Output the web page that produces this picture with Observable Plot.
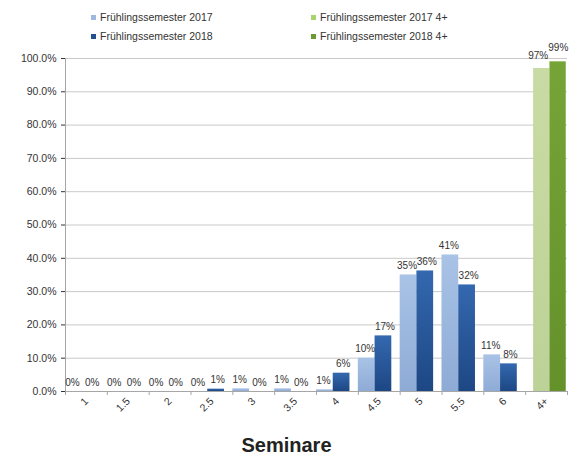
<!DOCTYPE html>
<html><head><meta charset="utf-8">
<script src="https://cdn.jsdelivr.net/npm/d3@7"></script>
<script src="https://cdn.jsdelivr.net/npm/@observablehq/plot@0.6"></script>
<style>
body{margin:0;background:#fff;font-family:Arial,"Liberation Sans",sans-serif;}
#wrap{position:relative;width:578px;height:455px;overflow:hidden;}
#wrap svg{position:absolute;left:0;top:0;overflow:visible;}
.leg{position:absolute;font-size:10.5px;line-height:12px;color:#333;white-space:nowrap;}
.sw{display:inline-block;width:5px;height:5px;margin-right:4px;vertical-align:middle;position:relative;top:-1px;}
#title{position:absolute;left:0;width:573px;text-align:center;top:435px;font-size:20px;line-height:20px;font-weight:bold;color:#222;}
</style></head><body>
<div id="wrap"></div>
<script>
// ---- data ----
const categories = ["1","1.5","2","2.5","3","3.5","4","4.5","5","5.5","6","4+"];
const gradeCategories = ["1","1.5","2","2.5","3","3.5","4","4.5","5","5.5","6"];
const values2017 = [0,0,0,0,0.8,0.8,0.5,10,35,41,11];
const values2018 = [0,0,0,0.7,0,0,5.5,16.7,36.2,32,8.3];
const pass2017 = [97];
const pass2018 = [99];
const yTicks = [0,10,20,30,40,50,60,70,80,90,100];
const seriesNames = ["Frühlingssemester 2017","Frühlingssemester 2018","Frühlingssemester 2017 4+","Frühlingssemester 2018 4+"];
const seriesColors = ["#9db9df","#23508f","#a8d26e","#6c9a30"];
const xTitle = "Seminare";

// ---- layout ----
const W = 578, H = 455, ML = 65, MR = 11, MT = 58, MB = 64;
const bw = d3.scaleBand().domain(categories).range([ML, W - MR]).padding(0).bandwidth();

const rows17 = gradeCategories.map((c, i) => ({cat: c, v: values2017[i]}));
const rows18 = gradeCategories.map((c, i) => ({cat: c, v: values2018[i]}));
const rowsP17 = pass2017.map(v => ({cat: "4+", v}));
const rowsP18 = pass2018.map(v => ({cat: "4+", v}));
const pct = d => Math.round(d.v) + "%";

function gradientDefs() {
  const ns = "http://www.w3.org/2000/svg";
  const defs = document.createElementNS(ns, "defs");
  defs.innerHTML = `
   <linearGradient id="gLB" x1="0" y1="0" x2="0" y2="1"><stop offset="0" stop-color="#a9c3e6"/><stop offset="1" stop-color="#8eabd6"/></linearGradient>
   <linearGradient id="gDB" x1="0" y1="0" x2="0" y2="1"><stop offset="0" stop-color="#3468af"/><stop offset="1" stop-color="#1d4784"/></linearGradient>
   <linearGradient id="gLG" x1="0" y1="0" x2="0" y2="1"><stop offset="0" stop-color="#c8dba4"/><stop offset="1" stop-color="#bdd296"/></linearGradient>
   <linearGradient id="gDG" x1="0" y1="0" x2="0" y2="1"><stop offset="0" stop-color="#76a437"/><stop offset="1" stop-color="#64912a"/></linearGradient>`;
  return defs;
}

const chart = Plot.plot({
  width: W, height: H,
  marginLeft: ML, marginRight: MR, marginTop: MT, marginBottom: MB,
  style: {fontFamily: "Arial, 'Liberation Sans', sans-serif", fontSize: "10.5px", color: "#333", background: "transparent", overflow: "visible"},
  x: {domain: categories, padding: 0, round: false, tickRotate: -45, tickSize: 0, tickPadding: 8, label: null},
  y: {domain: [0, 100], ticks: yTicks, tickFormat: d => d.toFixed(1) + "%", tickSize: 4, tickPadding: 5, label: null},
  marks: [
    gradientDefs,
    Plot.ruleY(yTicks.slice(1), {stroke: "#c9c9c9", strokeWidth: 1}),
    Plot.barY(rows17, {x: "cat", y: "v", fill: "url(#gLB)", insetLeft: 0, insetRight: bw * 0.6}),
    Plot.barY(rows18, {x: "cat", y: "v", fill: "url(#gDB)", insetLeft: bw * 0.4, insetRight: bw * 0.2}),
    Plot.barY(rowsP17, {x: "cat", y: "v", fill: "url(#gLG)", insetLeft: bw * 0.19, insetRight: bw * 0.42}),
    Plot.barY(rowsP18, {x: "cat", y: "v", fill: "url(#gDG)", insetLeft: bw * 0.58, insetRight: bw * 0.03}),
    Plot.ruleY([0], {stroke: "#a6a6a6"}),
    Plot.ruleX([categories[0]], {x: d => d, y1: 0, y2: 100, dx: -bw / 2, stroke: "#a6a6a6"}),
    Plot.ruleX(categories, {x: d => d, y1: 0, y2: 0, insetBottom: -4, dx: -bw / 2, stroke: "#a6a6a6"}),
    Plot.ruleX([categories[categories.length - 1]], {x: d => d, y1: 0, y2: 0, insetBottom: -4, dx: bw / 2, stroke: "#a6a6a6"}),
    Plot.text(rows17, {x: "cat", y: "v", text: pct, dx: -0.3 * bw - 1.5, dy: -9, fill: "#333", fontSize: 10}),
    Plot.text(rows18, {x: "cat", y: "v", text: pct, dx: 0.1 * bw + 1.5, dy: -9, fill: "#333", fontSize: 10}),
    Plot.text(rowsP17, {x: "cat", y: "v", text: pct, dx: -0.2 * bw, dy: -13, fill: "#333", fontSize: 10}),
    Plot.text(rowsP18, {x: "cat", y: "v", text: pct, dx: 0.28 * bw, dy: -14, fill: "#333", fontSize: 10})
  ]
});

const wrap = document.getElementById("wrap");
wrap.appendChild(chart);

// legend
const legPos = [[91, 11], [91, 30], [311, 11], [311, 30]];
seriesNames.forEach((name, i) => {
  const el = document.createElement("div");
  el.className = "leg";
  el.style.left = legPos[i][0] + "px";
  el.style.top = legPos[i][1] + "px";
  const sw = document.createElement("span");
  sw.className = "sw";
  sw.style.background = seriesColors[i];
  el.appendChild(sw);
  el.appendChild(document.createTextNode(name));
  wrap.appendChild(el);
});

const t = document.createElement("div");
t.id = "title";
t.textContent = xTitle;
wrap.appendChild(t);
</script>
</body></html>
